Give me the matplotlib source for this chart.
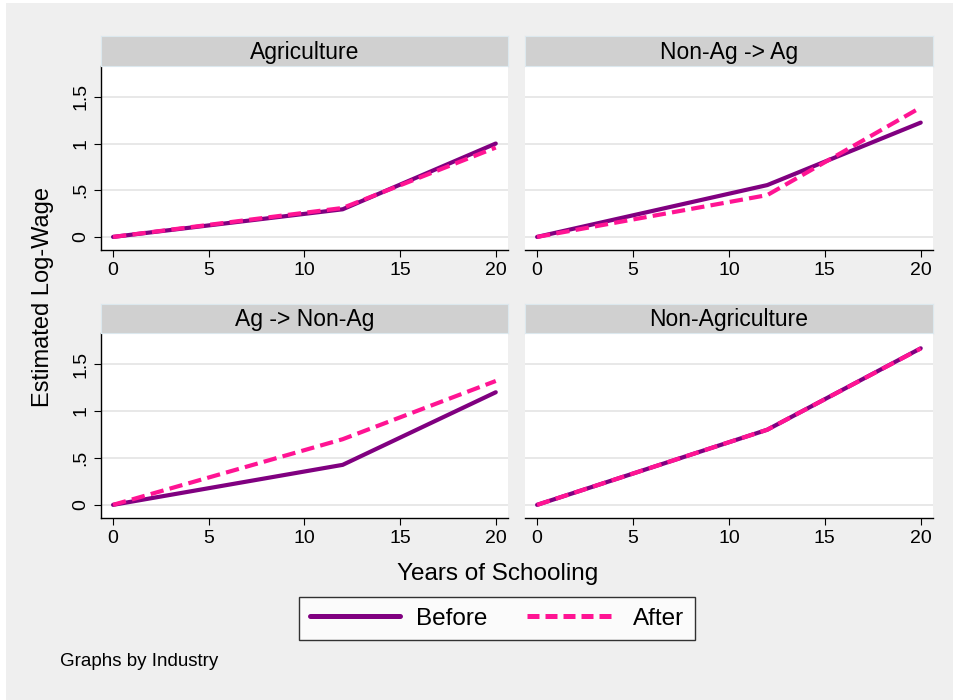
import matplotlib
matplotlib.use("Agg")
import matplotlib.pyplot as plt
from matplotlib.patches import Rectangle

plt.rcParams['font.family'] = ['Liberation Sans', 'DejaVu Sans']

# Estimated log-wage by years of schooling (spline knot at 12 years)
years = [0, 12, 20]
panels = ["Agriculture", "Non-Ag -> Ag", "Ag -> Non-Ag", "Non-Agriculture"]
before = {
    "Agriculture":     [0.0, 0.296, 1.000],
    "Non-Ag -> Ag":    [0.0, 0.555, 1.224],
    "Ag -> Non-Ag":    [0.0, 0.426, 1.199],
    "Non-Agriculture": [0.0, 0.800, 1.667],
}
after = {
    "Agriculture":     [0.0, 0.310, 0.957],
    "Non-Ag -> Ag":    [0.0, 0.448, 1.386],
    "Ag -> Non-Ag":    [0.0, 0.699, 1.319],
    "Non-Agriculture": [0.0, 0.800, 1.665],
}
xticks = [0, 5, 10, 15, 20]
yticks = [0, 0.5, 1, 1.5]
yticklabels = ["0", ".5", "1", "1.5"]

W, H = 954, 700
fig = plt.figure(figsize=(W / 100, H / 100), dpi=100)
fig.patch.set_facecolor("white")
fig.add_artist(Rectangle((6 / W, 0), 1, 1 - 3 / H, transform=fig.transFigure,
                         facecolor="#EFEFEF", edgecolor="none", zorder=-10))

PURPLE = "#800080"
PINK = "#FF1493"


def px_axes(x0, y0, x1, y1):
    return fig.add_axes([x0 / W, 1 - y1 / H, (x1 - x0) / W, (y1 - y0) / H])


boxes = [
    (101, 66, 508, 250, 36),
    (525, 66, 933, 250, 36),
    (101, 333, 508, 518, 304),
    (525, 333, 933, 518, 304),
]

for i, (name, (x0, y0, x1, y1, sy)) in enumerate(zip(panels, boxes)):
    ax = px_axes(x0, y0, x1, y1)
    ax.set_facecolor("white")
    ax.set_xlim(-0.63, 20.64)
    ax.set_ylim(-0.14, 1.83)
    for yt in yticks:
        ax.axhline(yt, color="#E6E6E6", lw=1.3, zorder=1)
    ax.plot(years, before[name], color=PURPLE, lw=3.0, solid_capstyle="round",
            zorder=3, label="Before")
    ax.plot(years, after[name], color=PINK, lw=3.0, dashes=(3.2, 1.5),
            dash_capstyle="butt", zorder=4, label="After")
    ax.spines["top"].set_visible(False)
    ax.spines["right"].set_visible(False)
    ax.spines["bottom"].set_linewidth(1.0)
    ax.set_xticks(xticks)
    ax.set_xticklabels([str(t) for t in xticks], fontsize=14)
    ax.tick_params(axis="x", length=5, width=0.8, pad=3.5)
    if i % 2 == 0:
        ax.spines["left"].set_linewidth(1.0)
        ax.set_yticks(yticks)
        ax.set_yticklabels(yticklabels, fontsize=14, rotation=90, va="center")
        ax.tick_params(axis="y", length=5, width=0.8, pad=3.5)
    else:
        ax.spines["left"].set_visible(False)
        ax.set_yticks([])
    # strip title
    sax = px_axes(x0, sy, x1, y0)
    sax.set_xticks([])
    sax.set_yticks([])
    sax.set_facecolor("#D0D0D0")
    for s in sax.spines.values():
        s.set_color("#DCE8EE")
        s.set_linewidth(0.8)
    sax.text(0.5, 0.46, name, ha="center", va="center", fontsize=16.5,
             transform=sax.transAxes)

fig.text(43 / W, 1 - 297 / H, "Estimated Log-Wage", rotation=90, ha="center",
         va="center", fontsize=17)
fig.text(498 / W, 1 - 574 / H, "Years of Schooling", ha="center", va="center",
         fontsize=17.5)
fig.text(60 / W, 1 - 662 / H, "Graphs by Industry", ha="left", va="center",
         fontsize=13.5)

handles, labels = fig.axes[0].get_legend_handles_labels()
leg = fig.legend(handles, labels, loc="center", ncol=2,
                 bbox_to_anchor=(497 / W, 1 - 618.5 / H), fontsize=17.5,
                 frameon=True, fancybox=False, handlelength=3.7,
                 columnspacing=1.6, handletextpad=0.66, borderpad=0.45,
                 borderaxespad=0)
leg.get_frame().set_edgecolor("black")
leg.get_frame().set_linewidth(1.0)
leg_lines = leg.get_lines()
for line in leg_lines:
    line.set_linewidth(3.6)
leg_lines[1].set_dashes((2.4, 1.2))

fig.savefig("out.png", dpi=100, facecolor=fig.get_facecolor())
